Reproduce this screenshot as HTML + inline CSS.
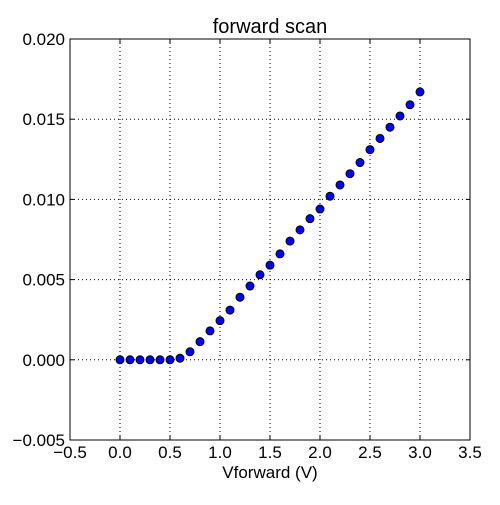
<!DOCTYPE html>
<html><head><meta charset="utf-8"><style>
body{margin:0;background:#fff;}
svg text{font-family:"Liberation Sans",sans-serif;fill:#000;}
</style></head><body>
<svg id="chart" width="500" height="500" xmlns="http://www.w3.org/2000/svg">
<rect width="500" height="500" fill="#fff"/>
<g id="grid"></g>
<g id="ticks"></g>
<g id="points"></g>
<rect x="70" y="39" width="400" height="401" fill="none" stroke="#000" stroke-width="1"/>
<text x="270" y="33" font-size="20" text-anchor="middle">forward scan</text>
<text x="270" y="478" font-size="17" text-anchor="middle">Vforward (V)</text>
</svg>
<script>
const xTicks=[-0.5,0,0.5,1,1.5,2,2.5,3,3.5];
const xTickLabels=["\u22120.5","0.0","0.5","1.0","1.5","2.0","2.5","3.0","3.5"];
const yTicks=[-0.005,0,0.005,0.01,0.015,0.02];
const yTickLabels=["\u22120.005","0.000","0.005","0.010","0.015","0.020"];
const vForward=[0,0.1,0.2,0.3,0.4,0.5,0.6,0.7,0.8,0.9,1.0,1.1,1.2,1.3,1.4,1.5,1.6,1.7,1.8,1.9,2.0,2.1,2.2,2.3,2.4,2.5,2.6,2.7,2.8,2.9,3.0];
const current=[0,0,0,0,0,0,0.0001,0.0005,0.00113,0.0018,0.00244,0.0031,0.0039,0.0046,0.0053,0.0059,0.0066,0.0074,0.0081,0.0088,0.0094,0.0102,0.0109,0.0116,0.0123,0.0131,0.0138,0.0145,0.0152,0.0159,0.0167];
const X0=70,X1=470,Y0=440,Y1=39;
const xs=v=>X0+(v+0.5)/4*(X1-X0);
const ys=v=>Y0-(v+0.005)/0.025*(Y0-Y1);
const NS="http://www.w3.org/2000/svg";
function mk(t,a,p){const e=document.createElementNS(NS,t);for(const k in a)e.setAttribute(k,a[k]);p.appendChild(e);return e;}
const grid=document.getElementById('grid'),ticks=document.getElementById('ticks'),pts=document.getElementById('points');
xTicks.forEach((v,i)=>{const x=xs(v);
 if(i>0&&i<xTicks.length-1){const g=mk('line',{x1:x,x2:x,y1:Y1,y2:Y0,stroke:'#000','stroke-dasharray':'1,3'},grid);
 
 }
 const t1=mk('line',{x1:x,x2:x,y1:Y0,y2:Y0-4,stroke:'#000'},ticks);
 
 
 const t2=mk('line',{x1:x,x2:x,y1:Y1,y2:Y1+4,stroke:'#000'},ticks);
 
 
 const l=mk('text',{x:x,y:Y0+18,'font-size':17,'text-anchor':'middle'},ticks);l.textContent=xTickLabels[i];
 
 
});
yTicks.forEach((v,i)=>{const y=ys(v);
 if(i>0&&i<yTicks.length-1){const g=mk('line',{x1:X0,x2:X1,y1:y,y2:y,stroke:'#000','stroke-dasharray':'1,3'},grid);
 
 }
 const t1=mk('line',{x1:X0,x2:X0+4,y1:y,y2:y,stroke:'#000'},ticks);
 
 
 const t2=mk('line',{x1:X1,x2:X1-4,y1:y,y2:y,stroke:'#000'},ticks);
 
 
 const l=mk('text',{x:X0-5,y:y+6,'font-size':17,'text-anchor':'end'},ticks);l.textContent=yTickLabels[i];
 
 
});
vForward.forEach((v,i)=>{const c=mk('circle',{cx:xs(v),cy:ys(current[i]),r:4,fill:'#0000ff',stroke:'#000','stroke-width':1},pts);
 
 
});
</script>
</body></html>
